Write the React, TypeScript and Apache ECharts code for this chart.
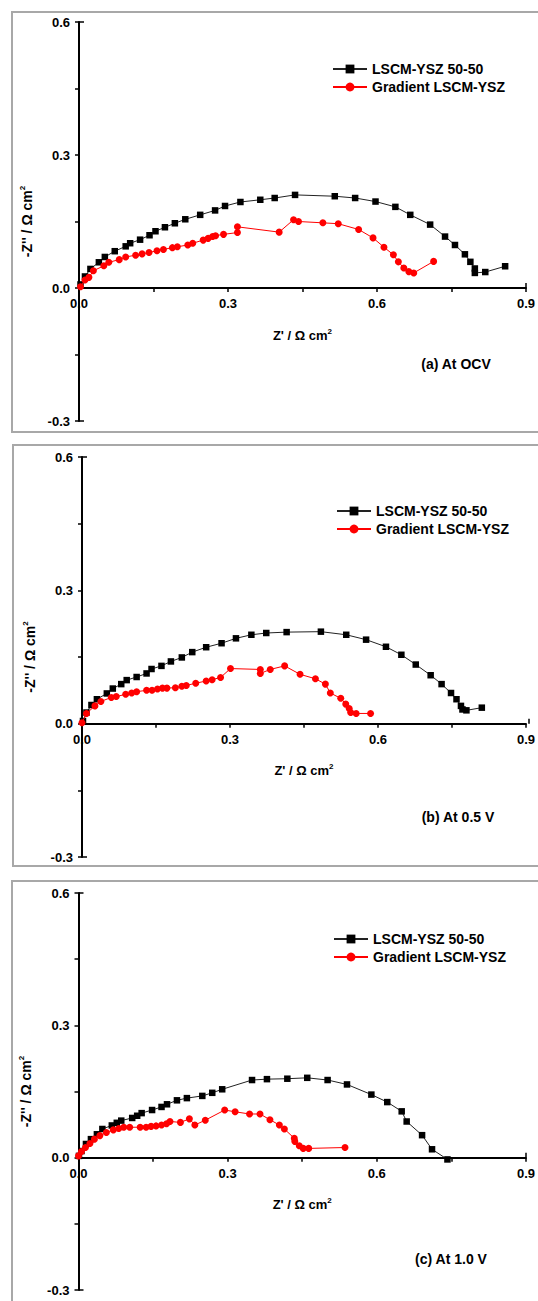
import React, { useEffect, useRef } from "react";
import * as echarts from "echarts";

// ---------- data (Z' , -Z'') ----------
const seriesNames = ["LSCM-YSZ 50-50", "Gradient LSCM-YSZ"];
const panelLabels = ["(a) At OCV", "(b) At 0.5 V", "(c) At 1.0 V"];
const tickLabelsX = ["0.0", "0.3", "0.6", "0.9"];
const tickLabelsY = ["-0.3", "0.0", "0.3", "0.6"];

const ocvBlack = [
  [0.003, 0.008], [0.012, 0.026], [0.023, 0.043], [0.04, 0.058], [0.052, 0.07], [0.072, 0.083],
  [0.094, 0.094], [0.103, 0.101], [0.123, 0.109], [0.142, 0.119], [0.154, 0.128], [0.173, 0.137],
  [0.193, 0.146], [0.214, 0.155], [0.244, 0.165], [0.274, 0.175], [0.294, 0.185], [0.325, 0.194],
  [0.365, 0.199], [0.394, 0.203], [0.435, 0.21], [0.515, 0.207], [0.556, 0.203], [0.597, 0.195],
  [0.637, 0.183], [0.667, 0.165], [0.707, 0.143], [0.737, 0.116], [0.757, 0.097], [0.777, 0.076],
  [0.788, 0.059], [0.797, 0.044], [0.797, 0.034], [0.818, 0.036], [0.858, 0.049],
];
const ocvRed = [
  [0.003, 0.003], [0.012, 0.018], [0.02, 0.024], [0.029, 0.039], [0.05, 0.05], [0.06, 0.058],
  [0.081, 0.064], [0.094, 0.07], [0.114, 0.074], [0.127, 0.077], [0.141, 0.08], [0.157, 0.084],
  [0.17, 0.087], [0.188, 0.091], [0.198, 0.093], [0.219, 0.097], [0.229, 0.101], [0.25, 0.108],
  [0.26, 0.112], [0.269, 0.116], [0.275, 0.118], [0.291, 0.121], [0.319, 0.125], [0.319, 0.138],
  [0.403, 0.126], [0.432, 0.154], [0.442, 0.15], [0.491, 0.147], [0.522, 0.145], [0.563, 0.132],
  [0.592, 0.113], [0.614, 0.092], [0.633, 0.075], [0.643, 0.059], [0.654, 0.045], [0.664, 0.037],
  [0.674, 0.034], [0.714, 0.06],
];
const halfBlack = [
  [0.002, 0.006], [0.009, 0.025], [0.019, 0.042], [0.03, 0.055], [0.05, 0.068], [0.062, 0.079],
  [0.079, 0.089], [0.09, 0.098], [0.11, 0.105], [0.13, 0.113], [0.14, 0.123], [0.16, 0.13],
  [0.179, 0.14], [0.201, 0.149], [0.222, 0.161], [0.25, 0.172], [0.281, 0.181], [0.31, 0.192],
  [0.341, 0.2], [0.371, 0.204], [0.412, 0.206], [0.481, 0.207], [0.532, 0.2], [0.572, 0.189],
  [0.612, 0.173], [0.643, 0.155], [0.672, 0.133], [0.702, 0.109], [0.724, 0.089], [0.743, 0.069],
  [0.754, 0.055], [0.763, 0.04], [0.766, 0.032], [0.774, 0.03], [0.805, 0.036],
];
const halfRed = [
  [0.0, 0.002], [0.009, 0.023], [0.026, 0.04], [0.038, 0.05], [0.059, 0.059], [0.069, 0.061],
  [0.088, 0.066], [0.1, 0.069], [0.11, 0.072], [0.13, 0.075], [0.141, 0.075], [0.152, 0.078],
  [0.162, 0.08], [0.171, 0.08], [0.188, 0.081], [0.201, 0.084], [0.21, 0.086], [0.229, 0.091],
  [0.25, 0.096], [0.262, 0.099], [0.279, 0.104], [0.299, 0.124], [0.359, 0.122], [0.359, 0.113],
  [0.379, 0.122], [0.408, 0.13], [0.439, 0.111], [0.47, 0.101], [0.49, 0.089], [0.5, 0.069],
  [0.521, 0.057], [0.531, 0.044], [0.538, 0.034], [0.541, 0.025], [0.552, 0.023], [0.581, 0.023],
];
const oneBlack = [
  [0.001, 0.004], [0.006, 0.015], [0.015, 0.031], [0.025, 0.042], [0.037, 0.053], [0.048, 0.065],
  [0.067, 0.073], [0.077, 0.079], [0.086, 0.084], [0.108, 0.09], [0.118, 0.095], [0.127, 0.101],
  [0.148, 0.108], [0.167, 0.115], [0.178, 0.121], [0.198, 0.13], [0.218, 0.135], [0.249, 0.14],
  [0.269, 0.147], [0.289, 0.155], [0.349, 0.176], [0.379, 0.178], [0.42, 0.179], [0.46, 0.181],
  [0.501, 0.176], [0.54, 0.166], [0.589, 0.143], [0.621, 0.126], [0.65, 0.105], [0.66, 0.082],
  [0.691, 0.051], [0.711, 0.019], [0.742, -0.004],
];
const oneRed = [
  [0.0, 0.004], [0.006, 0.014], [0.014, 0.023], [0.023, 0.032], [0.032, 0.042], [0.043, 0.05],
  [0.056, 0.057], [0.07, 0.063], [0.081, 0.066], [0.091, 0.069], [0.103, 0.069], [0.124, 0.069],
  [0.136, 0.069], [0.146, 0.071], [0.156, 0.072], [0.167, 0.074], [0.177, 0.077], [0.184, 0.082],
  [0.205, 0.08], [0.223, 0.088], [0.234, 0.074], [0.255, 0.085], [0.294, 0.108], [0.315, 0.104],
  [0.344, 0.099], [0.365, 0.099], [0.385, 0.086], [0.404, 0.074], [0.414, 0.065], [0.434, 0.044],
  [0.435, 0.037], [0.444, 0.027], [0.452, 0.021], [0.463, 0.021], [0.536, 0.023],
];

const blackSets = [ocvBlack, halfBlack, oneBlack];
const redSets = [ocvRed, halfRed, oneRed];

// ---------- layout ----------
const W = 538;
const H = 1301;
const FONT = "'Liberation Sans', Arial, sans-serif";
const Y_MIN = -0.3;
const Y_MAX = 0.6;
const X_MIN = 0;
const X_MAX = 0.9;
const panels = [
  { left: 79, top: 22, width: 447, height: 399, frameTop: 12, frameBottom: 432, frameLeft: 12, legendLeft: 327, legendTop: 57, labelX: 456, labelY: 364 },
  { left: 82, top: 457, width: 447, height: 400, frameTop: 445, frameBottom: 866, frameLeft: 13, legendLeft: 331, legendTop: 499, labelX: 458, labelY: 817 },
  { left: 78.5, top: 893, width: 447.5, height: 397, frameTop: 881, frameBottom: 1320, frameLeft: 12, legendLeft: 328, legendTop: 927, labelX: 451, labelY: 1259 },
];
const upperFrac = Y_MAX / (Y_MAX - Y_MIN);

const fmtTick = (list: string[]) => (v: number) => {
  const s = v.toFixed(1);
  const k = v / 0.3;
  return Math.abs(k - Math.round(k)) < 1e-6 && list.includes(s) ? s : "";
};

const richFor = (size: number) => ({
  b: { fontSize: size, fontWeight: "bold", fontFamily: FONT, color: "#000", lineHeight: size + 3 },
  s: { fontSize: 8, fontWeight: "bold", fontFamily: FONT, color: "#000", lineHeight: size + 3, verticalAlign: "top" },
});

export default function App() {
  const ref = useRef<HTMLDivElement>(null);
  useEffect(() => {
    document.body.style.margin = "0";
    if (!ref.current) return;
    const chart = echarts.init(ref.current, undefined, { renderer: "svg" });

    const n = panels.length;
    // full-height grids carry the y axes and the data; upper grids carry the x axis at -Z'' = 0
    const grid = [
      ...panels.map((p) => ({ left: p.left, top: p.top, width: p.width, height: p.height })),
      ...panels.map((p) => ({ left: p.left, top: p.top, width: p.width, height: p.height * upperFrac })),
    ];
    const xAxis = [
      ...panels.map((_, i) => ({ type: "value", gridIndex: i, min: X_MIN, max: X_MAX, show: false })),
      ...panels.map((_, i) => ({
        type: "value",
        gridIndex: n + i,
        min: X_MIN,
        max: X_MAX,
        interval: 0.15,
        position: "bottom",
        axisLine: { onZero: false, lineStyle: { color: "#000", width: 2 } },
        axisTick: { show: true, length: 4, lineStyle: { color: "#000", width: 1.5 } },
        axisLabel: { formatter: fmtTick(tickLabelsX), margin: 9, color: "#000", fontSize: 13, fontWeight: "bold", fontFamily: FONT },
        splitLine: { show: false },
        name: "{b|Z' / Ω cm}{s|2}",
        nameLocation: "middle",
        nameGap: 39,
        nameTextStyle: { rich: richFor(13) },
      })),
    ];
    const yAxis = [
      ...panels.map((_, i) => ({
        type: "value",
        gridIndex: i,
        min: Y_MIN,
        max: Y_MAX,
        interval: 0.15,
        axisLine: { onZero: false, lineStyle: { color: "#000", width: 2 } },
        axisTick: { show: true, length: 4, lineStyle: { color: "#000", width: 1.5 } },
        axisLabel: { formatter: fmtTick(tickLabelsY), margin: 9, color: "#000", fontSize: 13, fontWeight: "bold", fontFamily: FONT },
        splitLine: { show: false },
        name: "{b|-Z'' / Ω cm}{s|2}",
        nameLocation: "middle",
        nameGap: 44,
        nameTextStyle: { rich: richFor(14) },
      })),
      ...panels.map((_, i) => ({ type: "value", gridIndex: n + i, min: 0, max: Y_MAX, show: false })),
    ];

    const series: any[] = [];
    panels.forEach((_, i) => {
      series.push({
        name: seriesNames[0],
        type: "line",
        xAxisIndex: i,
        yAxisIndex: i,
        data: blackSets[i],
        symbol: "rect",
        symbolSize: 6.5,
        itemStyle: { color: "#000" },
        lineStyle: { color: "#222", width: 1 },
        z: 3,
      });
      series.push({
        name: seriesNames[1],
        type: "line",
        xAxisIndex: i,
        yAxisIndex: i,
        data: redSets[i],
        symbol: "circle",
        symbolSize: 7,
        itemStyle: { color: "#ff0000" },
        lineStyle: { color: "#ff0000", width: 1 },
        z: 4,
      });
    });

    const legend = panels.map((p) => ({
      orient: "vertical",
      left: p.legendLeft,
      top: p.legendTop,
      itemWidth: 34,
      itemHeight: 11,
      itemGap: 4,
      data: seriesNames,
      selectedMode: false,
      textStyle: { fontSize: 14, fontWeight: "bold", fontFamily: FONT, color: "#000" },
    }));

    const graphic: any[] = [];
    panels.forEach((p, i) => {
      const zeroY = p.top + p.height * upperFrac;
      graphic.push({
        type: "rect",
        shape: { x: p.frameLeft, y: p.frameTop, width: 700, height: p.frameBottom - p.frameTop },
        style: { fill: "none", stroke: "#a8a8a8", lineWidth: 2 },
        silent: true,
        z: -1,
      });
      graphic.push({
        type: "text",
        x: p.labelX,
        y: p.labelY,
        style: { text: panelLabels[i], fontSize: 14, fontWeight: "bold", fontFamily: FONT, fill: "#000", align: "center", verticalAlign: "middle" },
      });
      // inward end ticks of the Origin-style axes
      graphic.push({ type: "line", shape: { x1: p.left, y1: p.top, x2: p.left + 5, y2: p.top }, style: { stroke: "#000", lineWidth: 1.5 } });
      graphic.push({ type: "line", shape: { x1: p.left, y1: p.top + p.height, x2: p.left + 5, y2: p.top + p.height }, style: { stroke: "#000", lineWidth: 1.5 } });
      graphic.push({ type: "line", shape: { x1: p.left + p.width, y1: zeroY, x2: p.left + p.width, y2: zeroY - 5 }, style: { stroke: "#000", lineWidth: 1.5 } });
    });

    chart.setOption({
      animation: false,
      backgroundColor: "#fff",
      grid,
      xAxis,
      yAxis,
      legend,
      series,
      graphic,
    });
    return () => chart.dispose();
  }, []);
  return <div ref={ref} style={{ width: W, height: H }} />;
}
